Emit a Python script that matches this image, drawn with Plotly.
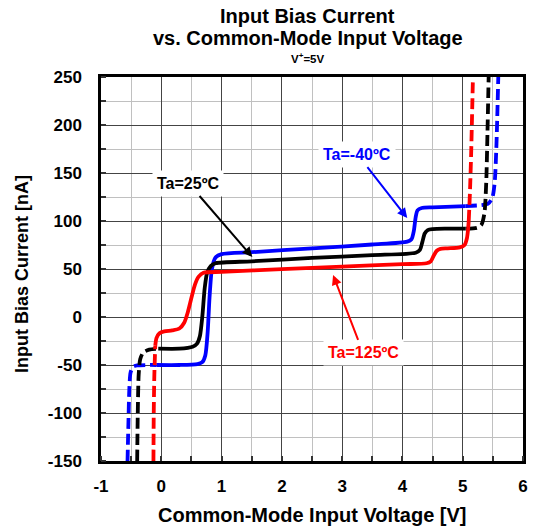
import plotly.graph_objects as go

# ---- data ----
# Ta = -40 C (blue)
blue_left_x = [-0.56, -0.545, -0.53, -0.51, -0.47, -0.40, -0.25, -0.08]
blue_left_y = [-150, -110, -75, -58, -52, -50.5, -50, -50]
blue_mid_x = [-0.08, 0.30, 0.60, 0.68, 0.73, 0.77, 0.80, 0.84, 0.90, 1.00, 1.50, 2.50, 3.50, 4.08, 4.15, 4.19, 4.22, 4.25, 4.32, 4.50, 5.05]
blue_mid_y = [-50, -50, -49, -47, -40, -15, 20, 50, 62, 65.5, 67.5, 71.5, 75.5, 78.5, 81, 90, 104, 111, 113.5, 114.2, 115.5]
blue_right_x = [5.05, 5.30, 5.42, 5.49, 5.53, 5.56, 5.59]
blue_right_y = [115.5, 116.5, 118, 124, 140, 180, 250]

# Ta = 25 C (black)
black_left_x = [-0.40, -0.39, -0.375, -0.35, -0.30, -0.20, -0.05]
black_left_y = [-150, -100, -60, -44, -37, -34, -33]
black_mid_x = [-0.05, 0.30, 0.52, 0.59, 0.64, 0.68, 0.72, 0.76, 0.82, 0.90, 1.50, 2.50, 3.50, 4.22, 4.29, 4.33, 4.37, 4.42, 4.50, 4.70, 5.05]
black_mid_y = [-33, -33, -31, -28, -20, 0, 30, 46, 53, 56, 58, 61.5, 64.5, 67, 70, 78, 87, 90.5, 91.5, 92, 92]
black_right_x = [5.05, 5.24, 5.31, 5.36, 5.39, 5.41, 5.43]
black_right_y = [92, 93, 96, 108, 140, 190, 250]

# Ta = 125 C (red)
red_left_x = [-0.13, -0.125, -0.115, -0.10]
red_left_y = [-150, -100, -60, -30]
red_mid_x = [-0.10, -0.08, -0.03, 0.05, 0.18, 0.30, 0.38, 0.44, 0.50, 0.56, 0.62, 0.70, 1.00, 2.00, 3.00, 4.00, 4.40, 4.47, 4.52, 4.57, 4.63, 4.75, 4.95, 5.03, 5.07, 5.09, 5.10]
red_mid_y = [-30, -22, -17, -15, -14, -12, -6, 5, 20, 34, 42, 46, 47, 49.8, 52.5, 55, 56, 58, 64, 69, 71, 71.5, 72.5, 75, 82, 92, 100]
red_right_x = [5.10, 5.12, 5.14, 5.155, 5.17]
red_right_y = [100, 130, 170, 210, 250]

x_ticks = [-1, 0, 1, 2, 3, 4, 5, 6]
x_tick_labels = ["-1", "0", "1", "2", "3", "4", "5", "6"]
y_ticks = [-150, -100, -50, 0, 50, 100, 150, 200, 250]
y_tick_labels = ["-150", "-100", "-50", "0", "50", "100", "150", "200", "250"]

BLUE = "#0000ff"
BLACK = "#000000"
RED = "#ff0000"
FONT = "Liberation Sans, Arial, sans-serif"

fig = go.Figure()


def add(x, y, color, dashed):
    fig.add_trace(go.Scatter(
        x=x, y=y, mode="lines",
        line=dict(color=color, width=3.8, shape="spline", smoothing=0.7,
                  dash="11px,5px" if dashed else "solid"),
        showlegend=False, hoverinfo="skip"))


for (lx, ly, mx, my, rx, ry, c) in [
    (blue_left_x, blue_left_y, blue_mid_x, blue_mid_y, blue_right_x, blue_right_y, BLUE),
    (black_left_x, black_left_y, black_mid_x, black_mid_y, black_right_x, black_right_y, BLACK),
    (red_left_x, red_left_y, red_mid_x, red_mid_y, red_right_x, red_right_y, RED),
]:
    add(lx, ly, c, True)
    add(mx, my, c, False)
    add(rx, ry, c, True)

axis_common = dict(
    showline=True, linecolor="black", linewidth=2.5, mirror=True,
    showgrid=True, gridcolor="#444444", gridwidth=1.2,
    zeroline=False, ticks="", automargin=False,
    tickfont=dict(family=FONT, size=17, color="black", weight="bold"),
)

fig.update_xaxes(
    range=[-1, 6], tickvals=x_ticks, ticktext=x_tick_labels,
    ticklabelstandoff=8,
    minor=dict(dtick=0.5, showgrid=True, gridcolor="#c0c0c0", gridwidth=1,
               ticks="inside", ticklen=5, tickcolor="#333333", tickwidth=1.5),
    **axis_common)
fig.update_yaxes(
    range=[-150, 250], tickvals=y_ticks, ticktext=y_tick_labels,
    ticklabelstandoff=13,
    minor=dict(dtick=25, showgrid=True, gridcolor="#c0c0c0", gridwidth=1,
               ticks="inside", ticklen=5, tickcolor="#333333", tickwidth=1.5),
    **axis_common)

ann_font = dict(family=FONT, size=16, weight="bold")
fig.add_annotation(x=1.51, y=62.5, ax=-64, ay=-74, axref="pixel", ayref="pixel",
                   text="Ta=25ºC", font=dict(color=BLACK, **ann_font),
                   bgcolor="white", borderpad=4, showarrow=True,
                   arrowhead=2, arrowsize=1, arrowwidth=2, arrowcolor=BLACK)
fig.add_annotation(x=4.08, y=103, ax=-50, ay=-64, axref="pixel", ayref="pixel",
                   text="Ta=-40ºC", font=dict(color=BLUE, **ann_font),
                   bgcolor="white", borderpad=4, showarrow=True,
                   arrowhead=2, arrowsize=1, arrowwidth=2, arrowcolor=BLUE)
fig.add_annotation(x=2.85, y=43.8, ax=30, ay=78, axref="pixel", ayref="pixel",
                   text="Ta=125ºC", font=dict(color=RED, **ann_font),
                   bgcolor="white", borderpad=4, showarrow=True,
                   arrowhead=2, arrowsize=1, arrowwidth=2, arrowcolor=RED)

# titles (plot area: x 101..523 px, y 77..461 px)
def py2paper(py):
    return (461 - py) / 384


def label(x, y, text, size, angle=0):
    fig.add_annotation(xref="paper", yref="paper", x=x, y=y, xanchor="center",
                       yanchor="middle", text=text, showarrow=False, textangle=angle,
                       font=dict(family=FONT, size=size, color="black"))


label(0.49, py2paper(16), "<b>Input Bias Current</b>", 20)
label(0.49, py2paper(38), "<b>vs. Common-Mode Input Voltage</b>", 20)
label(0.49, py2paper(58), "<b>V<sup>+</sup>=5V</b>", 11.5)
label(0.5, py2paper(515), "<b>Common-Mode Input Voltage [V]</b>", 20)
label((22 - 101) / 422, py2paper(274), "<b>Input Bias Current [nA]</b>", 18, -90)

fig.update_layout(
    width=533, height=531,
    margin=dict(l=101, r=10, t=77, b=70, autoexpand=False),
    paper_bgcolor="white", plot_bgcolor="white",
)

fig.write_html("out.html", config={"displayModeBar": False},
               post_script="document.body.style.margin='0';document.body.style.padding='0';")
